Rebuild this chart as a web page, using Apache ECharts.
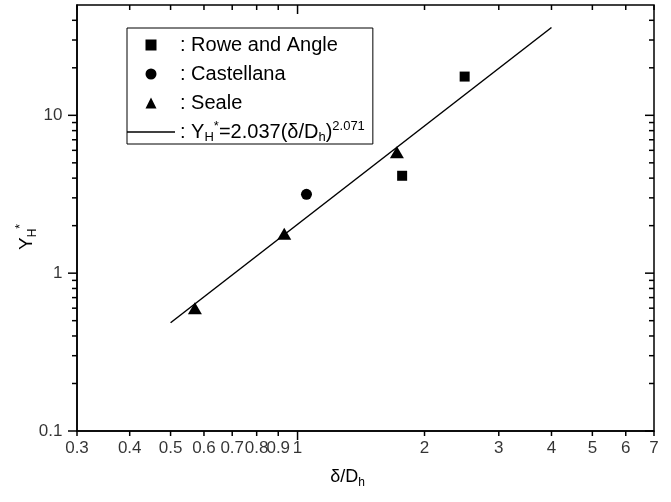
<!DOCTYPE html>
<html>
<head>
<meta charset="utf-8">
<script src="https://cdn.jsdelivr.net/npm/echarts@6/dist/echarts.min.js"></script>
<style>
  html, body { margin: 0; padding: 0; background: #fff; }
  #chart { width: 671px; height: 502px; }
</style>
</head>
<body>
<div id="chart"></div>
<script>
// values (log-log)
const roweAngle = [[2.49, 17.6], [1.77, 4.14]];
const castellana = [[1.05, 3.16]];
const seale = [[0.571, 0.60], [0.93, 1.78], [1.72, 5.83]];
const fitLine = [[0.5, 0.485], [4, 36]];

const xTicks = [0.3, 0.4, 0.5, 0.6, 0.7, 0.8, 0.9, 1, 2, 3, 4, 5, 6, 7];
const xMajor = [1];
const yTicks = [0.1, 0.2, 0.3, 0.4, 0.5, 0.6, 0.7, 0.8, 0.9,
                1, 2, 3, 4, 5, 6, 7, 8, 9, 10, 20, 30, 40];
const yMajor = [0.1, 1, 10];

const X_MIN = 0.3, X_MAX = 7, Y_MIN = 0.1, Y_MAX = 50;
const FONT = 'Liberation Sans';
const FIT_NAME = 'fit';

let chart = echarts.init(document.getElementById('chart'));

function tickSeries(data, size, offset) {
  return {
    type: 'scatter',
    silent: true,
    clip: false,
    symbol: 'rect',
    symbolSize: size,
    symbolOffset: offset,
    itemStyle: { color: '#000', opacity: 1 },
    z: 5,
    data: data
  };
}
function labelSeries(data, pos, dist, fmt) {
  return {
    type: 'scatter',
    silent: true,
    clip: false,
    symbol: 'rect',
    symbolSize: 1,
    itemStyle: { color: 'rgba(0,0,0,0)' },
    label: {
      show: true, position: pos, distance: dist,
      color: '#000', fontFamily: FONT, fontSize: 17,
      formatter: fmt
    },
    data: data
  };
}

const isXMajor = v => xMajor.indexOf(v) >= 0;
const isYMajor = v => yMajor.indexOf(v) >= 0;
const MIN_L = 5, MAJ_L = 9, TW = 1.5;

let series = [
  {
    name: 'Rowe and Angle', type: 'scatter', symbol: 'rect', symbolSize: 10,
    itemStyle: { color: '#000', opacity: 1 }, data: roweAngle, z: 4
  },
  {
    name: 'Castellana', type: 'scatter', symbol: 'circle', symbolSize: 11,
    itemStyle: { color: '#000', opacity: 1 }, data: castellana, z: 4
  },
  {
    name: 'Seale', type: 'scatter', symbol: 'triangle', symbolSize: [14, 12],
    itemStyle: { color: '#000', opacity: 1 }, data: seale, z: 4
  },
  {
    name: FIT_NAME, type: 'line', symbol: 'none', data: fitLine,
    lineStyle: { color: '#000', width: 1.5 }, itemStyle: { color: '#000' }, z: 3
  },
  // bottom ticks (outward)
  tickSeries(xTicks.filter(v => !isXMajor(v)).map(v => [v, Y_MIN]), [TW, MIN_L], [0, MIN_L / 2]),
  tickSeries(xTicks.filter(isXMajor).map(v => [v, Y_MIN]), [TW, MAJ_L], [0, MAJ_L / 2]),
  // top ticks (inward)
  tickSeries(xTicks.filter(v => !isXMajor(v)).map(v => [v, Y_MAX]), [TW, MIN_L], [0, MIN_L / 2]),
  tickSeries(xTicks.filter(isXMajor).map(v => [v, Y_MAX]), [TW, MAJ_L], [0, MAJ_L / 2]),
  // left ticks (outward)
  tickSeries(yTicks.filter(v => !isYMajor(v)).map(v => [X_MIN, v]), [MIN_L, TW], [-MIN_L / 2, 0]),
  tickSeries(yTicks.filter(isYMajor).map(v => [X_MIN, v]), [MAJ_L, TW], [-MAJ_L / 2, 0]),
  // right ticks (inward)
  tickSeries(yTicks.filter(v => !isYMajor(v)).map(v => [X_MAX, v]), [MIN_L, TW], [-MIN_L / 2, 0]),
  tickSeries(yTicks.filter(isYMajor).map(v => [X_MAX, v]), [MAJ_L, TW], [-MAJ_L / 2, 0]),
  // tick labels
  labelSeries(xTicks.map(v => [v, Y_MIN]), 'bottom', 8, p => String(p.value[0])),
  labelSeries(yMajor.map(v => [X_MIN, v]), 'left', 14, p => String(p.value[1]))
];

chart.setOption({
  animation: false,
  backgroundColor: '#fff',
  grid: {
    left: 77, right: 17, top: 5, bottom: 71,
    show: true, borderColor: '#000', borderWidth: 1.5, backgroundColor: 'transparent'
  },
  xAxis: {
    type: 'log', logBase: 10, min: X_MIN, max: X_MAX,
    axisLine: { show: true, lineStyle: { color: '#000', width: 1.5 } },
    axisTick: { show: false },
    axisLabel: { show: false },
    splitLine: { show: false },
    name: '{n|δ/D}{sb|h}',
    nameLocation: 'middle',
    nameGap: 34,
    nameTextStyle: {
      padding: [0, 36, 0, 0],
      rich: {
        n: { fontFamily: FONT, fontSize: 18, color: '#000', lineHeight: 24 },
        sb: { fontFamily: FONT, fontSize: 12, color: '#000', lineHeight: 12, verticalAlign: 'bottom' }
      }
    }
  },
  yAxis: {
    type: 'log', logBase: 10, min: Y_MIN, max: Y_MAX,
    axisLine: { show: true, lineStyle: { color: '#000', width: 1.5 } },
    axisTick: { show: false },
    axisLabel: { show: false },
    splitLine: { show: false },
    name: '{n|Y}{sb|H}{sp|*}',
    nameLocation: 'middle',
    nameRotate: 90,
    nameGap: 38,
    nameTextStyle: {
      padding: [0, 38, 0, 0],
      rich: {
        n: { fontFamily: FONT, fontSize: 19, color: '#000', lineHeight: 24 },
        sb: { fontFamily: FONT, fontSize: 12, color: '#000', lineHeight: 12, verticalAlign: 'bottom' },
        sp: { fontFamily: FONT, fontSize: 12, color: '#000', lineHeight: 12, verticalAlign: 'top' }
      }
    }
  },
  legend: {
    data: [
      { name: 'Rowe and Angle', icon: 'path://M0,0H1V1H0Z' },
      { name: 'Castellana', icon: 'circle' },
      { name: 'Seale', icon: 'path://M0.5,0L1,1H0Z' },
      { name: FIT_NAME, icon: 'path://M0,0H32V1H0Z' }
    ],
    orient: 'vertical',
    left: 127, top: 28,
    padding: [5, 8, 0, 0],
    itemGap: 5,
    itemWidth: 48,
    itemHeight: 11,
    borderColor: '#000',
    borderWidth: 1,
    selectedMode: false,
    formatter: function (name) {
      if (name === FIT_NAME) {
        return '{n|: Y}{sb|H}{sp|*}{n|=2.037(δ/D}{sb|h}{n|)}{sp|2.071}';
      }
      return ': ' + name;
    },
    textStyle: {
      fontFamily: FONT, fontSize: 20, color: '#000', lineHeight: 24,
      rich: {
        n: { fontFamily: FONT, fontSize: 20, color: '#000', lineHeight: 24 },
        sb: { fontFamily: FONT, fontSize: 13, color: '#000', lineHeight: 13, verticalAlign: 'bottom' },
        sp: { fontFamily: FONT, fontSize: 13, color: '#000', lineHeight: 13, verticalAlign: 'top' }
      }
    }
  },
  series: series
});
</script>
</body>
</html>
